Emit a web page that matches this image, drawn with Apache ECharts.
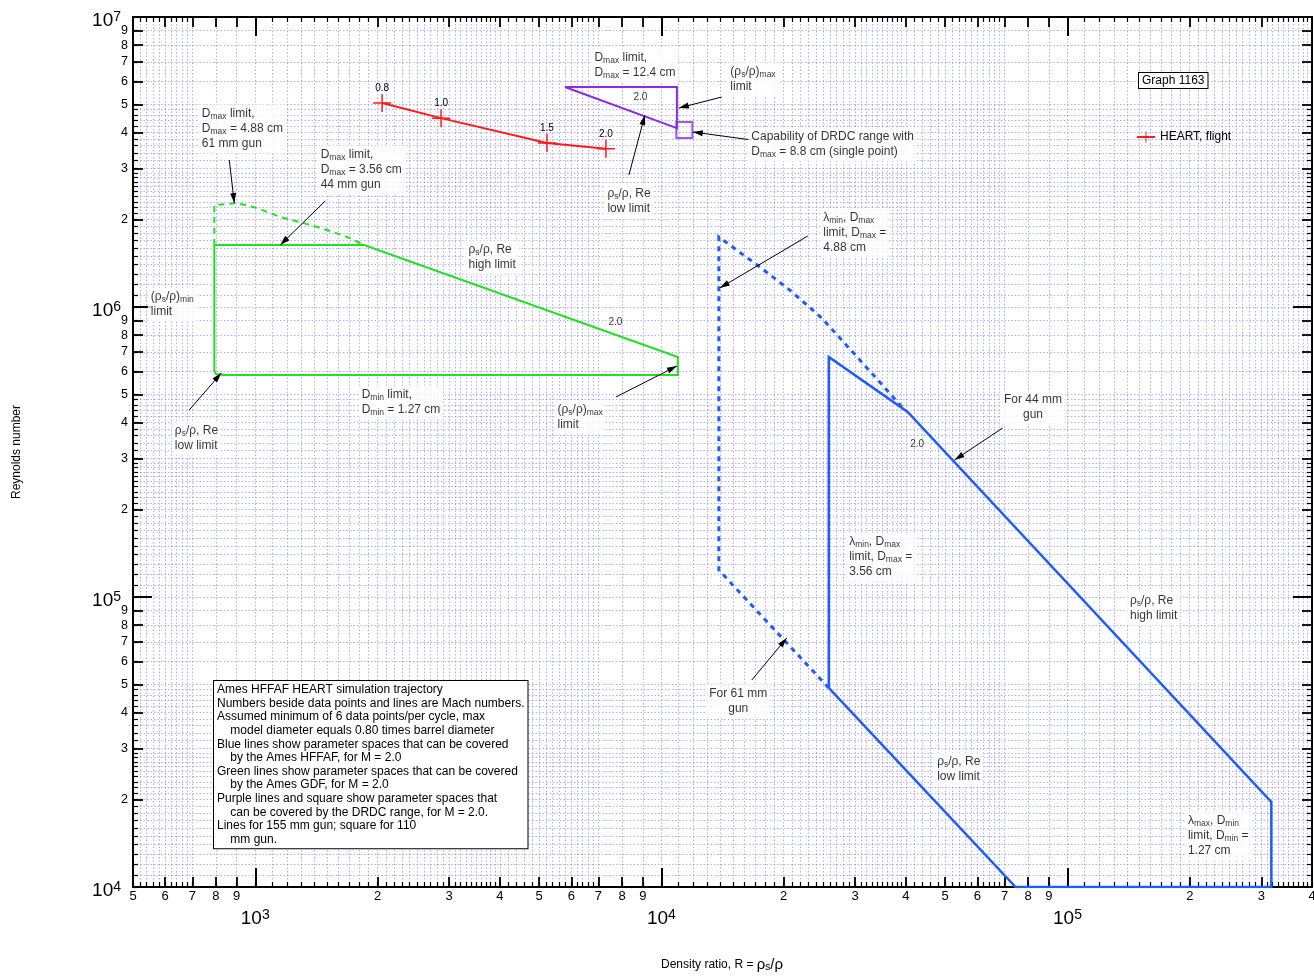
<!DOCTYPE html>
<html>
<head>
<meta charset="utf-8">
<title>Reynolds number vs density ratio</title>
<script src="https://cdn.jsdelivr.net/npm/echarts@6/dist/echarts.min.js"></script>
<style>
  html, body { margin: 0; padding: 0; background: #fff; }
  #chart { width: 1314px; height: 976px; }
</style>
</head>
<body>
<div id="chart"></div>
<script>
// ---------------- axis ranges ----------------
const densityRange = [500, 4e5];      // R = rho_s / rho
const reynoldsRange = [1e4, 1e7];     // Reynolds number

// ---------------- log tick layout (mantissas inside one decade) ----------------
const decadeMantissa = [1];
const labeledMantissas = [2, 3, 4, 5, 6, 7, 8, 9];
const xSmallMantissas = [1.1, 1.2, 1.3, 1.4, 1.5, 1.6, 1.7, 1.8, 1.9,
  2.1, 2.2, 2.3, 2.4, 2.5, 2.6, 2.7, 2.8, 2.9,
  3.1, 3.2, 3.3, 3.4, 3.5, 3.6, 3.7, 3.8, 3.9,
  4.2, 4.4, 4.6, 4.8, 5.2, 5.4, 5.6, 5.8, 6.2, 6.4, 6.6, 6.8];
const ySmallMantissas = [1.1, 1.2, 1.3, 1.4, 1.5, 1.6, 1.7, 1.8, 1.9,
  2.1, 2.2, 2.3, 2.4, 2.5, 2.6, 2.7, 2.8, 2.9,
  3.2, 3.4, 3.6, 3.8, 4.2, 4.4, 4.6, 4.8];

// ---------------- HEART flight trajectory ----------------
const heartR = [2053, 2868, 5228, 7303];
const heartRe = [5.05e6, 4.48e6, 3.68e6, 3.51e6];
const heartMach = ['0.8', '1.0', '1.5', '2.0'];

// ---------------- Ames GDF (green) ----------------
const gdfSolidR = [793, 793, 801, 834, 10980, 10980, 1854, 793];
const gdfSolidRe = [1.636e6, 6.015e5, 5.875e5, 5.83e5, 5.83e5, 6.724e5, 1.636e6, 1.636e6];
const gdfDashR = [793, 793, 903, 1011, 1152, 1313, 1503, 1684, 1854];
const gdfDashRe = [1.636e6, 2.247e6, 2.284e6, 2.194e6, 2.043e6, 1.949e6, 1.843e6, 1.743e6, 1.636e6];

// ---------------- DRDC range (purple) ----------------
const drdcR = [5787, 10920, 10920, 5787];
const drdcRe = [5.735e6, 5.735e6, 4.14e6, 5.735e6];
const drdcPointR = [11393];
const drdcPointRe = [4.076e6];

// ---------------- Ames HFFAF (blue) ----------------
const hffafSolidR = [25835, 25835, 40410, 317600, 317600, 74500, 25835];
const hffafSolidRe = [48560, 6.724e5, 4.345e5, 19640, 1e4, 1e4, 48560];
const hffafDashR = [25835, 13851, 13851, 14745, 17474, 20712, 24817, 31130, 39720];
const hffafDashRe = [48560, 1.239e5, 1.743e6, 1.636e6, 1.374e6, 1.144e6, 9.166e5, 6.462e5, 4.414e5];

// ---------------- Mach number tags on the boundaries ----------------
const machTagText = ['2.0', '2.0', '2.0'];
const machTagAt = [[7729, 8.808e5], [8904, 5.257e6], [42760, 3.343e5]];

// ---------------- callouts (anchor = top-left, or top-centre when centred) ----------------
const calloutText = [
  'D{sub|max} limit,\nD{sub|max} = 4.88 cm\n61 mm gun',
  'D{sub|max} limit,\nD{sub|max} = 3.56 cm\n44 mm gun',
  'ρ{sub|s}/ρ, Re\nhigh limit',
  '(ρ{sub|s}/ρ){sub|min}\nlimit',
  'ρ{sub|s}/ρ, Re\nlow limit',
  'D{sub|min} limit,\nD{sub|min} = 1.27 cm',
  '(ρ{sub|s}/ρ){sub|max}\nlimit',
  'D{sub|max} limit,\nD{sub|max} = 12.4 cm',
  '(ρ{sub|s}/ρ){sub|max}\nlimit',
  'Capability of DRDC range with\nD{sub|max} = 8.8 cm (single point)',
  'ρ{sub|s}/ρ, Re\nlow limit',
  'λ{sub|min}, D{sub|max}\nlimit, D{sub|max} =\n4.88 cm',
  'For 44 mm\ngun',
  'λ{sub|min}, D{sub|max}\nlimit, D{sub|max} =\n3.56 cm',
  'For 61 mm\ngun',
  'ρ{sub|s}/ρ, Re\nhigh limit',
  'ρ{sub|s}/ρ, Re\nlow limit',
  'λ{sub|max}, D{sub|min}\nlimit, D{sub|min} =\n1.27 cm'
];
const calloutAt = [
  [740.8, 4.857e6], [1453, 3.506e6], [3360, 1.649e6], [554.9, 1.136e6],
  [635.7, 3.918e5], [1833, 5.214e5], [5565, 4.629e5], [6862, 7.573e6],
  [14825, 6.776e6], [16697, 4.045e6], [7385, 2.572e6], [25112, 2.126e6],
  [83890, 5.012e5], [29085, 1.623e5], [15776, 48560], [142900, 1.016e5],
  [47890, 28300], [198500, 17720]
];
const calloutAlign = ['left', 'left', 'left', 'left', 'left', 'left', 'left', 'left',
  'left', 'left', 'left', 'left', 'center', 'left', 'center', 'left', 'left', 'left'];

// ---------------- leader arrows (tail -> head) ----------------
const arrowTail = [
  [863, 3.213e6], [1487, 2.320e6], [688, 4.414e5], [7729, 4.894e5], [14087, 5.298e6],
  [16697, 3.766e6], [8318, 2.852e6], [22933, 1.757e6], [69210, 3.826e5], [16697, 51730]
];
const arrowHead = [
  [888, 2.284e6], [1152, 1.636e6], [824.8, 5.921e5], [10920, 6.259e5], [11042, 4.857e6],
  [11951, 4.013e6], [9108, 4.593e6], [13929, 1.163e6], [52720, 2.968e5], [20360, 72230]
];

// ---------------- notes ----------------
const notesLines = [
  'Ames HFFAF HEART simulation trajectory',
  'Numbers beside data points and lines are Mach numbers.',
  'Assumed minimum of 6 data points/per cycle, max',
  '    model diameter equals 0.80 times barrel diameter',
  'Blue lines show parameter spaces that can be covered',
  '    by the Ames HFFAF, for M = 2.0',
  'Green lines show parameter spaces that can be covered',
  '    by the Ames GDF, for M = 2.0',
  'Purple lines and square show parameter spaces that',
  '    can be covered by the DRDC range, for M = 2.0.',
  'Lines for 155 mm gun; square for 110',
  '    mm gun.'
];
const graphTag = 'Graph 1163';

// ---------------- styling ----------------
const FONT = '"Liberation Sans", Arial, Helvetica, sans-serif';
const INK = '#000';
const RED = '#ff1a1a';
const GREEN = '#22e022';
const PURPLE = '#8c2ae6';
const BLUE = '#1f5cff';
const GRID_LINE = { color: 'rgba(110,110,250,0.55)', width: 1, type: [1.5, 2] };
const PLUS = 'path://M0,8.25H18V9.75H0ZM8.25,0H9.75V18H8.25Z';
// arrowhead: tip sits at the centre of a square box so it ends on the target point
const ARROW = 'path://M0,0L0.01,0ZM20,20L19.99,20ZM10,10L13,20L7,20Z';

const LOG = Math.log10;
const xLo = 2 + LOG(5), xHi = 5 + LOG(4);
const yLo = 4, yHi = 7;

function logTicks(mantissas, lo, hi) {
  const out = [];
  for (let e = Math.floor(lo) - 1; e <= Math.ceil(hi); e++) {
    mantissas.forEach(m => {
      const v = e + LOG(m);
      if (v >= lo - 1e-9 && v <= hi + 1e-9) out.push(Math.min(Math.max(v, lo), hi));
    });
  }
  return out;
}

const xMajor = logTicks(decadeMantissa, xLo, xHi);
const xMid = logTicks(labeledMantissas, xLo, xHi);
const xSmall = logTicks(xSmallMantissas, xLo, xHi);
const yMajor = logTicks(decadeMantissa, yLo, yHi);
const yMid = logTicks(labeledMantissas, yLo, yHi);
const ySmall = logTicks(ySmallMantissas, yLo, yHi);

const mantissaLabel = v => String(Math.round(Math.pow(10, v - Math.floor(v + 1e-9))));
const decadeLabel = v => '{b|10}{sup|' + Math.round(v) + '}';

// one tick level of a log axis drawn on a transparent value axis
function tickAxis(position, lo, hi, ticks, len, width, extra) {
  return Object.assign({
    type: 'value', gridIndex: 0, position: position, min: lo, max: hi,
    axisLine: { show: false, onZero: false },
    axisTick: { show: true, inside: true, length: len, customValues: ticks,
      lineStyle: { color: INK, width: width } },
    axisLabel: { show: false },
    splitLine: { show: false },
    silent: true
  }, extra || {});
}

const frameLine = { show: true, onZero: false, lineStyle: { color: INK, width: 2 } };
const midLabel = (vals, margin, size) => ({
  show: true, customValues: vals, margin: margin, fontSize: size, color: INK,
  fontFamily: FONT, formatter: mantissaLabel
});
const decadeRich = {
  b: { fontSize: 19, lineHeight: 22, color: INK, fontFamily: FONT },
  sup: { fontSize: 14, lineHeight: 10, verticalAlign: 'top', color: INK, fontFamily: FONT }
};

const xAxes = [
  { type: 'log', logBase: 10, min: densityRange[0], max: densityRange[1], show: false, gridIndex: 0 },
  tickAxis('bottom', xLo, xHi, xMajor.concat(xMid, xSmall), 5, 1.2,
    { splitLine: { show: true, lineStyle: GRID_LINE } }),
  tickAxis('bottom', xLo, xHi, xMid, 10, 1.8, { axisLabel: midLabel(xMid, 3, 13) }),
  tickAxis('bottom', xLo, xHi, xMajor, 19, 2, {
    axisLine: frameLine,
    axisLabel: { show: true, customValues: xMajor, margin: 21, formatter: decadeLabel, rich: decadeRich }
  }),
  tickAxis('top', xLo, xHi, xSmall, 5, 1.2),
  tickAxis('top', xLo, xHi, xMid, 10, 1.8),
  tickAxis('top', xLo, xHi, xMajor, 19, 2, { axisLine: frameLine })
];

const yAxes = [
  { type: 'log', logBase: 10, min: reynoldsRange[0], max: reynoldsRange[1], show: false, gridIndex: 0 },
  tickAxis('left', yLo, yHi, yMajor.concat(yMid, ySmall), 5, 1.2,
    { splitLine: { show: true, lineStyle: GRID_LINE } }),
  tickAxis('left', yLo, yHi, yMid, 10, 1.8, { axisLabel: midLabel(yMid, 5, 12.5) }),
  tickAxis('left', yLo, yHi, yMajor, 19, 2, {
    axisLine: frameLine,
    axisLabel: { show: true, customValues: yMajor, margin: 12, formatter: decadeLabel,
      rich: decadeRich, padding: [8, 0, 0, 0] }
  }),
  tickAxis('right', yLo, yHi, ySmall, 5, 1.2),
  tickAxis('right', yLo, yHi, yMid, 10, 1.8),
  tickAxis('right', yLo, yHi, yMajor, 19, 2, { axisLine: frameLine })
];

const pairs = (xs, ys) => xs.map((x, i) => [x, ys[i]]);

function boundary(name, xs, ys, color, width, dash) {
  return {
    name: name, type: 'line', xAxisIndex: 0, yAxisIndex: 0,
    data: pairs(xs, ys), symbol: 'none', silent: true, z: 3,
    lineStyle: { color: color, width: width, type: dash || 'solid', cap: 'butt', join: 'miter' }
  };
}

const subRich = {
  sub: { fontSize: 8.5, lineHeight: 6, verticalAlign: 'bottom', color: INK, fontFamily: FONT }
};

const series = [
  boundary('GDF, 44 mm gun', gdfSolidR, gdfSolidRe, GREEN, 2),
  boundary('GDF, 61 mm gun', gdfDashR, gdfDashRe, GREEN, 2, [6, 5]),
  boundary('DRDC range', drdcR, drdcRe, PURPLE, 2),
  boundary('HFFAF, 44 mm gun', hffafSolidR, hffafSolidRe, BLUE, 2.5),
  boundary('HFFAF, 61 mm gun', hffafDashR, hffafDashRe, BLUE, 3, [5, 5]),
  {
    name: 'DRDC, single point', type: 'scatter', xAxisIndex: 0, yAxisIndex: 0,
    data: pairs(drdcPointR, drdcPointRe), symbol: 'rect', symbolSize: 16, silent: true, z: 3,
    itemStyle: { color: 'rgba(0,0,0,0)', borderColor: PURPLE, borderWidth: 2 }
  },
  {
    name: 'HEART, flight', type: 'line', xAxisIndex: 0, yAxisIndex: 0,
    data: pairs(heartR, heartRe), symbol: PLUS, symbolSize: 18, symbolKeepAspect: true,
    showSymbol: true, silent: true, z: 4,
    lineStyle: { color: RED, width: 2 }, itemStyle: { color: RED },
    label: { show: true, position: 'top', distance: 1, fontSize: 10, color: INK, fontFamily: FONT,
      formatter: p => heartMach[p.dataIndex] }
  },
  {
    name: 'leaders', type: 'lines', coordinateSystem: 'cartesian2d', xAxisIndex: 0, yAxisIndex: 0,
    data: arrowTail.map((t, i) => ({ coords: [t, arrowHead[i]] })),
    symbol: ['none', ARROW], symbolSize: 20, silent: true, z: 5,
    lineStyle: { color: INK, width: 1, opacity: 1, curveness: 0 },
    itemStyle: { color: INK }
  },
  {
    name: 'Mach tags', type: 'scatter', xAxisIndex: 0, yAxisIndex: 0,
    data: machTagAt.map((p, i) => ({ value: p, label: { formatter: machTagText[i] } })),
    symbolSize: 1, itemStyle: { color: 'rgba(0,0,0,0)' }, silent: true, z: 5,
    label: { show: true, position: [0, 0], align: 'center', verticalAlign: 'middle',
      fontSize: 10, color: INK, fontFamily: FONT }
  },
  {
    name: 'callouts', type: 'scatter', xAxisIndex: 0, yAxisIndex: 0,
    data: calloutAt.map((p, i) => ({ value: p, label: { formatter: calloutText[i], align: calloutAlign[i] } })),
    symbolSize: 1, itemStyle: { color: 'rgba(0,0,0,0)' }, silent: true, z: 6,
    label: { show: true, position: [0, 0], offset: [-3, -3], verticalAlign: 'top',
      fontSize: 12, lineHeight: 15, color: INK, fontFamily: FONT,
      backgroundColor: '#fff', padding: [2, 3], rich: subRich }
  }
];

const chart = echarts.init(document.getElementById('chart'), null, { renderer: 'canvas' });
chart.setOption({
  animation: false,
  backgroundColor: '#fff',
  textStyle: { fontFamily: FONT, color: INK },
  grid: { left: 133, right: 2, top: 17, bottom: 89, containLabel: false, outerBoundsMode: 'none' },
  legend: {
    data: ['HEART, flight'], left: 1136, top: 131, padding: 0, itemWidth: 18, itemHeight: 14,
    selectedMode: false, textStyle: { fontSize: 12, color: INK, fontFamily: FONT }
  },
  xAxis: xAxes,
  yAxis: yAxes,
  series: series,
  graphic: [
    {
      type: 'text', left: 213, top: 680, z: 10,
      style: { text: notesLines.join('\n'), fontSize: 12, fontFamily: FONT, lineHeight: 13.6,
        fill: INK, backgroundColor: '#fff', borderColor: INK, borderWidth: 1, padding: [2, 3, 2, 3] }
    },
    {
      type: 'text', left: 1138, top: 72, z: 10,
      style: { text: graphTag, fontSize: 12, fontFamily: FONT, fill: INK,
        backgroundColor: '#fff', borderColor: INK, borderWidth: 1, padding: [2, 3, 1, 3] }
    },
    {
      type: 'text', x: 17, y: 452, rotation: Math.PI / 2,
      style: { text: 'Reynolds number', fontSize: 12, fontFamily: FONT, fill: INK,
        align: 'center', verticalAlign: 'middle' }
    },
    {
      type: 'text', x: 722, y: 965,
      style: { text: 'Density ratio, R = {g|ρ}{gs|s}{g|/ρ}', fontSize: 12, fontFamily: FONT, fill: INK,
        align: 'center', verticalAlign: 'middle',
        rich: { g: { fontSize: 15, fontFamily: FONT, fill: INK },
                gs: { fontSize: 10, lineHeight: 8, verticalAlign: 'bottom', fontFamily: FONT, fill: INK } } }
    }
  ]
});
</script>
</body>
</html>
